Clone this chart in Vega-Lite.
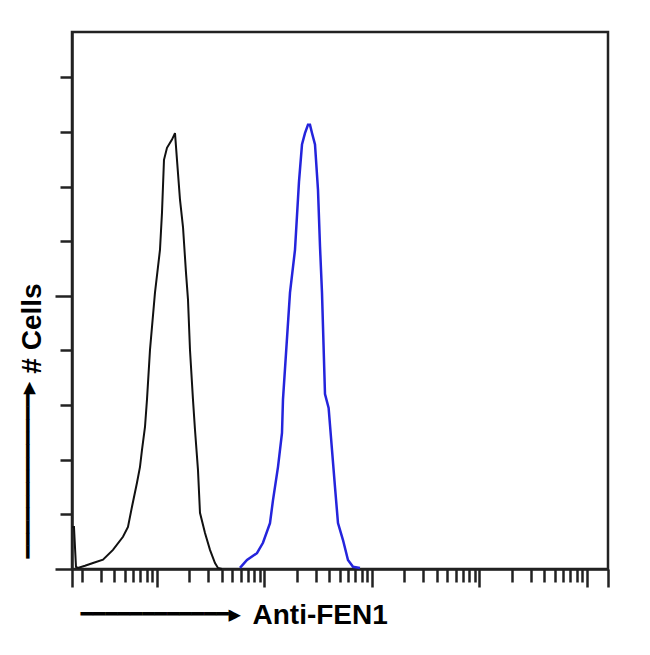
{
  "$schema": "https://vega.github.io/schema/vega-lite/v6.json",
  "width": 536,
  "height": 537,
  "autosize": {"type": "none"},
  "padding": {"left": 72, "top": 32, "right": 42, "bottom": 86},
  "background": "white",
  "config": {
    "view": {"stroke": "#222", "strokeWidth": 2.5},
    "axis": {"grid": false, "labels": false, "domainColor": "#222", "domainWidth": 2.5, "tickColor": "#222", "tickWidth": 2.5}
  },
  "datasets": {
    "control": [
      {"x": 1.626, "y": 77}, {"x": 1.69, "y": 77}, {"x": 1.764, "y": 4}, {"x": 1.841, "y": 2}, {"x": 2.139, "y": 6},
      {"x": 2.54, "y": 11}, {"x": 3.146, "y": 17}, {"x": 3.896, "y": 35}, {"x": 4.828, "y": 59}, {"x": 5.373, "y": 77},
      {"x": 5.854, "y": 114}, {"x": 6.516, "y": 158}, {"x": 6.95, "y": 187}, {"x": 7.254, "y": 218}, {"x": 7.735, "y": 260},
      {"x": 8.072, "y": 310}, {"x": 8.61, "y": 401}, {"x": 9.581, "y": 506}, {"x": 10.66, "y": 584}, {"x": 11.13, "y": 652},
      {"x": 11.62, "y": 749}, {"x": 12.39, "y": 771}, {"x": 13.79, "y": 786}, {"x": 14.71, "y": 798}, {"x": 15.35, "y": 749},
      {"x": 16.37, "y": 676}, {"x": 17.46, "y": 626}, {"x": 18.62, "y": 542}, {"x": 19.43, "y": 493}, {"x": 20.28, "y": 401},
      {"x": 21.62, "y": 310}, {"x": 22.57, "y": 255}, {"x": 24.07, "y": 181}, {"x": 25.12, "y": 103}, {"x": 27.97, "y": 66},
      {"x": 31.12, "y": 35}, {"x": 34.64, "y": 11}, {"x": 36.94, "y": 2}, {"x": 40.24, "y": 0}
    ],
    "antiFEN1": [
      {"x": 59.17, "y": 2}, {"x": 68.74, "y": 16.5}, {"x": 85.14, "y": 29}, {"x": 96.83, "y": 48}, {"x": 112.5, "y": 84},
      {"x": 120, "y": 126}, {"x": 133.6, "y": 187}, {"x": 145.5, "y": 249}, {"x": 148.6, "y": 310}, {"x": 172.7, "y": 506},
      {"x": 192.2, "y": 584}, {"x": 209.4, "y": 709}, {"x": 223.3, "y": 777}, {"x": 238.1, "y": 798}, {"x": 253.9, "y": 813},
      {"x": 265, "y": 813}, {"x": 276.6, "y": 798}, {"x": 295, "y": 777}, {"x": 314.6, "y": 694}, {"x": 328.5, "y": 590},
      {"x": 342.7, "y": 506}, {"x": 365.5, "y": 320}, {"x": 395, "y": 295}, {"x": 424.6, "y": 218}, {"x": 452.8, "y": 150},
      {"x": 482.8, "y": 84}, {"x": 537.4, "y": 53}, {"x": 597.9, "y": 16.5}, {"x": 665.8, "y": 4}, {"x": 773.4, "y": 2}
    ]
  },
  "resolve": {"axis": {"x": "independent", "y": "independent"}},
  "layer": [
    {
      "data": {"name": "control"},
      "mark": {"type": "line", "color": "#111", "strokeWidth": 2},
      "encoding": {
        "x": {
          "field": "x", "type": "quantitative",
          "scale": {"type": "log", "domain": [1.62, 156800], "nice": false},
          "axis": {
            "orient": "bottom",
            "values": [1.62, 2, 3, 4, 5, 6, 7, 8, 9, 10, 20, 30, 40, 50, 60, 70, 80, 90, 100, 200, 300, 400, 500, 600, 700, 800, 900, 1000, 2000, 3000, 4000, 5000, 6000, 7000, 8000, 9000, 10000, 20000, 30000, 40000, 50000, 60000, 70000, 80000, 90000, 100000, 156800],
            "tickSize": {"condition": {"test": "datum.value < 1.7 || datum.value > 150000 || datum.value == 10 || datum.value == 100 || datum.value == 1000 || datum.value == 10000 || datum.value == 100000", "value": 18}, "value": 13},
            "title": "Anti-FEN1",
            "titleFont": "Liberation Sans", "titleFontWeight": "bold", "titleFontSize": 28, "titleColor": "#000",
            "titleX": 180, "titleY": 54, "titleAlign": "left", "titleAnchor": "start", "titleBaseline": "alphabetic"
          }
        },
        "y": {
          "field": "y", "type": "quantitative",
          "scale": {"domain": [0, 983], "nice": false},
          "axis": {
            "orient": "left",
            "values": [0, 100, 200, 300, 400, 500, 600, 700, 800, 900],
            "tickSize": {"condition": {"test": "datum.value == 0 || datum.value == 500", "value": 17}, "value": 12},
            "title": "# Cells",
            "titleFont": "Liberation Sans", "titleFontWeight": "bold", "titleFontSize": 28, "titleColor": "#000",
            "titleAngle": 270, "titleX": -32, "titleY": 296, "titleAlign": "center", "titleBaseline": "alphabetic"
          }
        }
      }
    },
    {
      "data": {"name": "antiFEN1"},
      "mark": {"type": "line", "color": "#2424dc", "strokeWidth": 2.5},
      "encoding": {
        "x": {
          "field": "x", "type": "quantitative",
          "scale": {"type": "log", "domain": [1.62, 156800], "nice": false},
          "axis": {
            "orient": "top", "ticks": false, "domain": false,
            "title": "━━━━━━━━━━━━▶",
            "titleFont": "DejaVu Sans Mono", "titleFontWeight": "normal", "titleFontSize": 20.5, "titleColor": "#000",
            "titleX": 8, "titleY": 588, "titleAlign": "left", "titleAnchor": "start", "titleBaseline": "alphabetic"
          }
        },
        "y": {
          "field": "y", "type": "quantitative",
          "scale": {"domain": [0, 983], "nice": false},
          "axis": {
            "orient": "right", "ticks": false, "domain": false,
            "title": "━━━━━━━━━━━━━▶",
            "titleFont": "DejaVu Sans Mono", "titleFontWeight": "normal", "titleFontSize": 21, "titleColor": "#000",
            "titleAngle": 270, "titleX": -574, "titleY": 526, "titleAlign": "left", "titleBaseline": "alphabetic"
          }
        }
      }
    }
  ]
}
